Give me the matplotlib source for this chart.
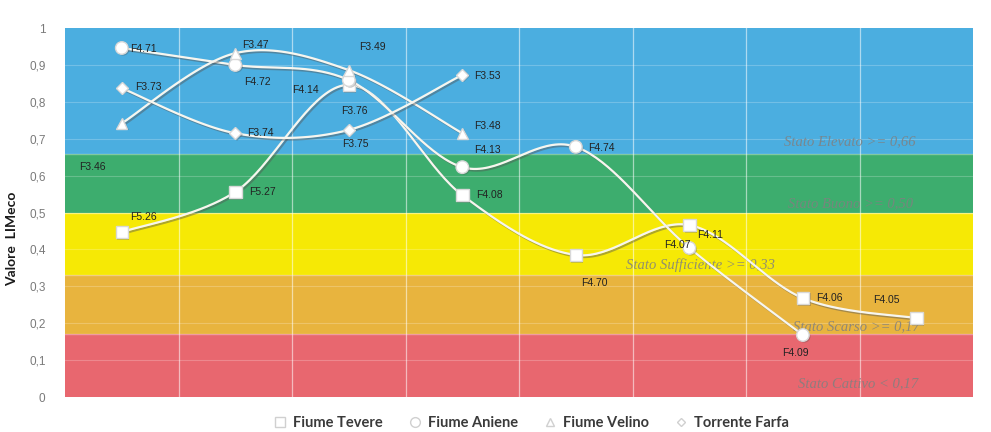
import numpy as np
import matplotlib
matplotlib.use('Agg')
import matplotlib.pyplot as plt
import matplotlib.patheffects as pe
from matplotlib.lines import Line2D

# ---------------- data ----------------
series_names = ['Fiume Tevere', 'Fiume Aniene', 'Fiume Velino', 'Torrente Farfa']

tevere = [0.447, 0.556, 0.846, 0.547, 0.385, 0.466, 0.268, 0.214]
tevere_codes = ['F5.26', 'F5.27', 'F4.14', 'F4.08', 'F4.70', 'F4.11', 'F4.06', 'F4.05']

aniene = [0.946, 0.900, 0.859, 0.623, 0.678, 0.404, 0.168]
aniene_codes = ['F4.71', 'F4.72', 'F3.76', 'F4.13', 'F4.74', 'F4.07', 'F4.09']

velino = [0.742, 0.932, 0.886, 0.715]
velino_codes = ['F3.46', 'F3.47', 'F3.49', 'F3.48']

farfa = [0.837, 0.715, 0.724, 0.873]
farfa_codes = ['F3.73', 'F3.74', 'F3.75', 'F3.53']

band_limits = [0.0, 0.17, 0.33, 0.50, 0.66, 1.0]
band_names = ['Stato Cattivo < 0,17', 'Stato Scarso >= 0,17', 'Stato Sufficiente >= 0,33',
              'Stato Buono >= 0,50', 'Stato Elevato >= 0,66']

y_ticks = [0, 0.1, 0.2, 0.3, 0.4, 0.5, 0.6, 0.7, 0.8, 0.9, 1.0]
y_tick_labels = ['0', '0,1', '0,2', '0,3', '0,4', '0,5', '0,6', '0,7', '0,8', '0,9', '1']
y_label = 'Valore  LIMeco'
n_categories = 8

# ---------------- style ----------------
band_colors = ['#E8676F', '#E8B43E', '#F6E905', '#3DAD6E', '#4BAEE0']
markers = ['s', 'o', '^', 'D']
marker_sizes = [9, 9, 8, 6]
# label offsets in pixels (dx, dy) and horizontal alignment
tevere_off = [(8, 15, 'left'), (14, 0, 'left'), (-30, -5, 'right'), (14, 0, 'left'),
              (19, -28, 'center'), (8, -10, 'left'), (13, 0, 'left'), (-30, 18, 'center')]
aniene_off = [(8, -1, 'left'), (9, -17, 'left'), (-8, -31, 'left'), (12, 17, 'left'),
              (12, -1, 'left'), (-12, 3, 'center'), (-7, -18, 'center')]
velino_off = [(-29, -44, 'center'), (7, 8, 'left'), (10, 23, 'left'), (12, 7, 'left')]
farfa_off = [(13, 1, 'left'), (12, 0, 'left'), (7, -14, 'center'), (12, -1, 'left')]
# band label placement: (x, y, ha)
band_label_pos = [(7.02, 0.035, 'right'), (7.03, 0.19, 'right'), (5.1, 0.358, 'center'),
                  (6.97, 0.523, 'right'), (6.99, 0.691, 'right')]


def smooth(xs, ys, n=40):
    """Catmull-Rom curve through the points (rendering of Excel's smoothed line)."""
    xs = np.asarray(xs, float)
    ys = np.asarray(ys, float)
    P = np.column_stack([xs, ys])
    P = np.vstack([P[0], P, P[-1]])
    out = []
    t = np.linspace(0, 1, n)
    for i in range(1, len(P) - 2):
        p0, p1, p2, p3 = P[i - 1], P[i], P[i + 1], P[i + 2]
        t2, t3 = t * t, t * t * t
        seg = 0.5 * ((2 * p1)[None, :] + (-p0 + p2)[None, :] * t[:, None]
                     + (2 * p0 - 5 * p1 + 4 * p2 - p3)[None, :] * t2[:, None]
                     + (-p0 + 3 * p1 - 3 * p2 + p3)[None, :] * t3[:, None])
        out.append(seg if i == 1 else seg[1:])
    c = np.vstack(out)
    return c[:, 0], c[:, 1]


fig = plt.figure(figsize=(9.91, 4.32), dpi=100)
ax = fig.add_axes([0.0656, 0.081, 0.9164, 0.854])
ax.set_xlim(-0.5, n_categories - 0.5)
ax.set_ylim(0, 1)

# bands
for i in range(len(band_names)):
    ax.axhspan(band_limits[i], band_limits[i + 1], color=band_colors[i], zorder=0, lw=0)
# grid
for yv in y_ticks[1:-1]:
    ax.axhline(yv, color='white', alpha=0.22, lw=0.8, zorder=1)
for xv in np.arange(0.5, n_categories - 0.5, 1):
    ax.axvline(xv, color='white', alpha=0.55, lw=0.9, zorder=1)
for yv in band_limits[1:-1]:
    ax.axhline(yv, color='white', alpha=0.35, lw=1.0, zorder=1)

# band labels
for name, (bx, by, ha) in zip(band_names, band_label_pos):
    ax.text(bx, by, name, ha=ha, va='center', fontsize=10.5, style='italic',
            family='Liberation Serif', color='#808080', alpha=0.85, zorder=2)

all_series = [tevere, aniene, velino, farfa]
all_codes = [tevere_codes, aniene_codes, velino_codes, farfa_codes]
all_offs = [tevere_off, aniene_off, velino_off, farfa_off]

shadow = [pe.SimpleLineShadow(offset=(1.2, -1.2), shadow_color='#555555', alpha=0.45),
          pe.Normal()]

for k, (vals, codes, offs) in enumerate(zip(all_series, all_codes, all_offs)):
    xs = list(range(len(vals)))
    sx, sy = smooth(xs, vals)
    ax.plot(sx, sy, color='#F7F6EF', lw=1.6, zorder=3, path_effects=shadow)
    ax.plot(xs, vals, linestyle='none', marker=markers[k], ms=marker_sizes[k],
            mfc='white', mec='#d8d8d8', mew=1.0, zorder=4,
            path_effects=[pe.SimplePatchShadow(offset=(1, -1), alpha=0.3), pe.Normal()])
    for x, v, c, (dx, dy, ha) in zip(xs, vals, codes, offs):
        ax.annotate(c, (x, v), xytext=(dx, dy), textcoords='offset pixels',
                    ha=ha, va='center', fontsize=7.5, family='Liberation Sans',
                    color='#222222', zorder=5)

# axes styling
ax.set_yticks(y_ticks)
ax.set_yticklabels(y_tick_labels, fontsize=8.5, color='#7a7a7a', family='Liberation Sans')
ax.set_xticks([])
ax.tick_params(axis='y', length=0, pad=14)
for s in ax.spines.values():
    s.set_visible(False)
ax.set_ylabel(y_label, fontsize=10, fontweight='bold', family='Lato', color='#1a1a1a')
ax.yaxis.set_label_coords(-0.052, 0.43)

# legend
handles = [Line2D([], [], linestyle='none', marker=markers[k], ms=marker_sizes[k] - 2,
                  mfc='white', mec='#d0d0d0', mew=1.0) for k in range(4)]
fig.legend(handles, series_names, loc='center', bbox_to_anchor=(0.535, 0.02), ncol=4,
           frameon=False, prop={'family': 'Lato', 'weight': 'bold', 'size': 10.5},
           labelcolor='#3a3a3a', handletextpad=0.3, columnspacing=1.6, handlelength=1.2)

fig.savefig('out.png', dpi=100)
